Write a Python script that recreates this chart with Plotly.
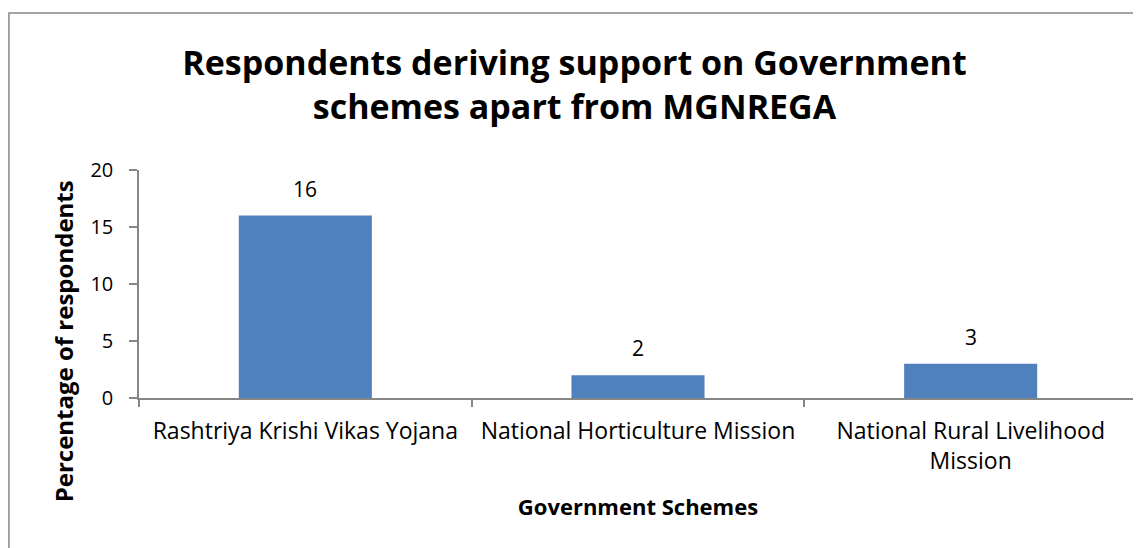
import plotly.graph_objects as go

# data
schemes = ["Rashtriya Krishi Vikas Yojana", "National Horticulture Mission",
           "National Rural Livelihood<br>Mission"]
pct = [16, 2, 3]
y_ticks = [0, 5, 10, 15, 20]

FONT = "'Open Sans', Calibri, sans-serif"
BAR = "#4F81BD"
AXIS = "#868686"

fig = go.Figure()
fig.add_trace(go.Bar(x=schemes, y=pct, marker=dict(color=BAR, line=dict(width=0)),
                     width=0.4, hoverinfo="x+y"))

# value labels above bars
for s, v in zip(schemes, pct):
    fig.add_annotation(x=s, y=v, text=str(v), showarrow=False, yshift=27,
                       font=dict(size=21, color="black", family=FONT))

# y axis title sits lower than the plot centre, as in the original
fig.add_annotation(text="<b>Percentage of respondents</b>", textangle=-90,
                   xref="paper", yref="paper", x=-0.0758, y=0.25,
                   xanchor="center", yanchor="middle", showarrow=False,
                   font=dict(size=24, family=FONT, color="black"))

# page body has an 8px margin, so the figure is 8px smaller than the window
fig.update_layout(
    width=1133, height=540,
    paper_bgcolor="white", plot_bgcolor="white",
    margin=dict(l=131, r=4, t=162, b=150),
    showlegend=False,
    font=dict(family=FONT, color="black"),
    title=dict(text="<b>Respondents deriving support on Government<br>schemes apart from MGNREGA</b>",
               x=0.5, xanchor="center", y=0.876, yanchor="middle",
               font=dict(size=34, family=FONT, color="black")),
)

fig.update_xaxes(
    showline=True, linecolor=AXIS, linewidth=1.5,
    ticks="outside", tickson="boundaries", tickcolor=AXIS, ticklen=7, tickwidth=1.5,
    tickfont=dict(size=23, family=FONT, color="black"),
    ticklabelstandoff=12,
    title=dict(text="<b>Government Schemes</b>", font=dict(size=22, family=FONT, color="black"),
               standoff=24),
    showgrid=False, zeroline=False, automargin=False,
)
fig.update_yaxes(
    range=[0, 20], tickvals=y_ticks,
    showline=True, linecolor=AXIS, linewidth=1.5,
    ticks="outside", tickcolor=AXIS, ticklen=8, tickwidth=1.5,
    tickfont=dict(size=20, family=FONT, color="black"),
    ticklabelstandoff=12,
    showgrid=False, zeroline=False, automargin=False,
)

# chart frame
fig.add_shape(type="rect", xref="paper", yref="paper",
              x0=-0.1303, x1=1.2, y0=-1.0, y1=1.6886,
              line=dict(color="#888888", width=1.5), fillcolor="rgba(0,0,0,0)", layer="below")

fig.write_html("out.html")
